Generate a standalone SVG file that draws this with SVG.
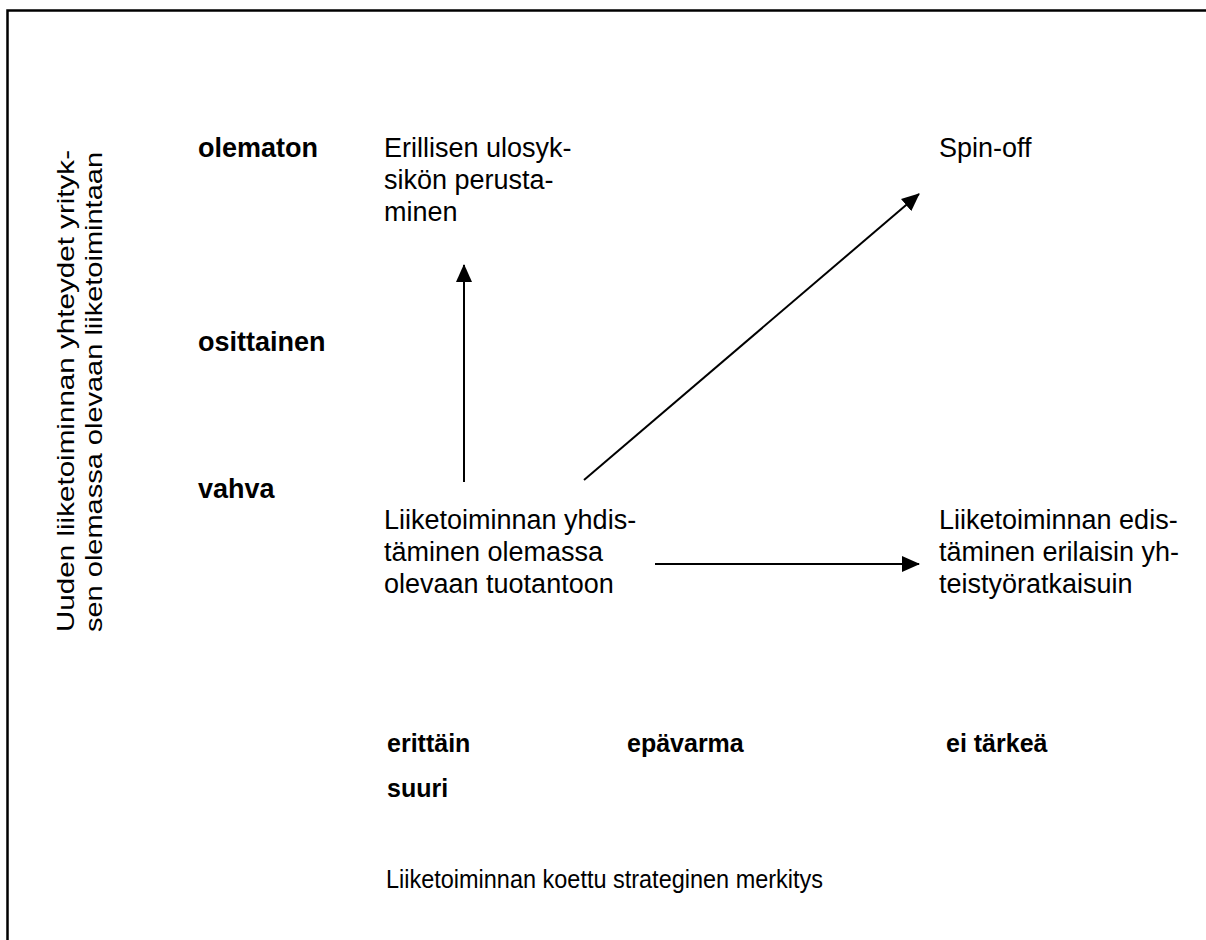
<svg xmlns="http://www.w3.org/2000/svg" width="1206" height="940" viewBox="0 0 1206 940">
  <defs>
    <style>
      text { font-family: "Liberation Sans", Arial, sans-serif; font-size: 27px; fill: #000; }
      .b { font-weight: bold; }
      .s { font-size: 25px; }
      .v { font-size: 24px; }
      .conn { stroke: #000; stroke-width: 2; fill: none; }
    </style>
    <marker id="arrow" viewBox="0 0 18 16" refX="17" refY="8" markerWidth="18" markerHeight="16" markerUnits="userSpaceOnUse" orient="auto">
      <path d="M0,0 L18,8 L0,16 Z" fill="#000"/>
    </marker>
  </defs>
  <rect width="1206" height="940" fill="#fff"/>
  <!-- frame: top and left edges -->
  <path d="M7.5,941 L7.5,10.5 L1206,10.5" stroke="#000" stroke-width="2.5" fill="none"/>

  <!-- vertical axis title -->
  <g id="axis-y-title">
    <text class="v" transform="translate(74,632) rotate(-90)" textLength="482" lengthAdjust="spacingAndGlyphs">Uuden liiketoiminnan yhteydet yrityk-</text>
    <text class="v" transform="translate(102,632) rotate(-90)" textLength="480" lengthAdjust="spacingAndGlyphs">sen olemassa olevaan liiketoimintaan</text>
  </g>

  <!-- vertical axis levels -->
  <g id="axis-y-levels">
    <text class="b" x="198" y="157">olematon</text>
    <text class="b" x="198" y="351">osittainen</text>
    <text class="b" x="198" y="498">vahva</text>
  </g>

  <g id="node-erillinen">
    <text x="384" y="157">Erillisen ulosyk-</text>
    <text x="384" y="189">sikön perusta-</text>
    <text x="384" y="221">minen</text>
  </g>

  <g id="node-spinoff">
    <text x="939" y="157">Spin-off</text>
  </g>

  <g id="node-yhdistaminen">
    <text x="384" y="529">Liiketoiminnan yhdis-</text>
    <text x="384" y="561">täminen olemassa</text>
    <text x="384" y="593">olevaan tuotantoon</text>
  </g>

  <g id="node-edistaminen">
    <text x="939" y="529">Liiketoiminnan edis-</text>
    <text x="939" y="561">täminen erilaisin yh-</text>
    <text x="939" y="593">teistyöratkaisuin</text>
  </g>

  <!-- horizontal axis levels -->
  <g id="axis-x-levels">
    <text class="b s" x="387" y="752">erittäin</text>
    <text class="b s" x="387" y="797">suuri</text>
    <text class="b s" x="627" y="752">epävarma</text>
    <text class="b s" x="946" y="752">ei tärkeä</text>
  </g>

  <g id="axis-x-title">
    <text class="s" x="386" y="888" textLength="437" lengthAdjust="spacingAndGlyphs">Liiketoiminnan koettu strateginen merkitys</text>
  </g>

  <g id="connectors">
    <line class="conn" x1="464" y1="482" x2="464" y2="265" marker-end="url(#arrow)"/>
    <line class="conn" x1="584" y1="480" x2="919" y2="194" marker-end="url(#arrow)"/>
    <line class="conn" x1="655" y1="564" x2="919" y2="564" marker-end="url(#arrow)"/>
  </g>
</svg>
